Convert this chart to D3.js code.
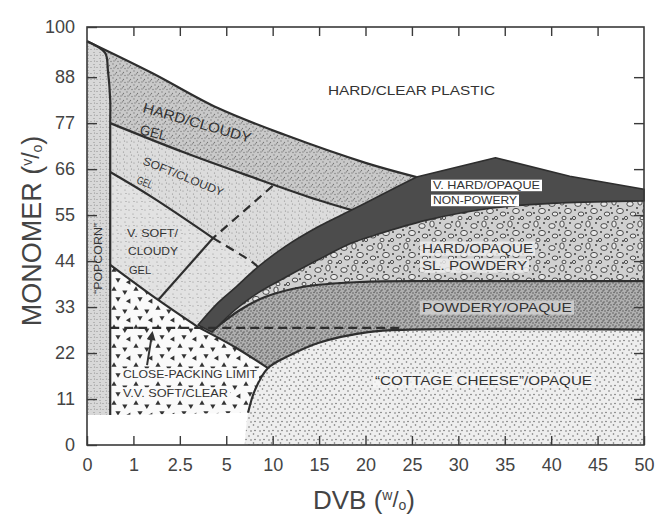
<!DOCTYPE html>
<html>
<head>
<meta charset="utf-8">
<script src="https://cdn.jsdelivr.net/npm/d3@7"></script>
<style>
  body { margin: 0; background: #fff; }
  svg text { font-family: "Liberation Sans", Arial, Helvetica, sans-serif; }
</style>
</head>
<body>
<div id="vis-holder"></div>
<script>
// Chart size and plot box
const width = 658;
const height = 522;
const margin = { top: 27, right: 14, bottom: 77, left: 87 };

// Tick labels (the DVB axis is not linear, ticks are evenly spaced)
const dvbTicks = [0, 1, 2.5, 5, 10, 15, 20, 25, 30, 35, 40, 45, 50];
const monomerTicks = [0, 11, 22, 33, 44, 55, 66, 77, 88, 100];

// Phase boundaries, points are [DVB w/o, monomer v/o]
const plasticEdge = [[0, 96.6], [1.6, 89.0], [4.55, 80.6], [11.3, 74.2], [20, 67.5], [25.5, 64.1]];
const popcornEdge = [[0, 96.6], [0.39, 93.8], [0.45, 89.7], [0.5, 82.5], [0.5, 77.0], [0.5, 7.2]];
const hardGelEdge = [[0.5, 77.0], [2.78, 69.9], [7.77, 64.1], [14.9, 58.6], [18.8, 56.0]];
const softGelEdge = [[0.5, 65.3], [1.6, 59.3], [4.29, 49.5], [7.77, 43.8], [8.42, 42.6]];
const crossEdge = [[10, 62.0], [4.29, 49.5], [1.8, 34.7]];
const clearEdge = [[0.5, 43.1], [1.8, 34.7], [3.48, 28.2]];
const tipEdge = [[3.48, 28.2], [5.95, 23.4], [9.5, 18.4]];
const cottageEdge = [[7.0, 0], [7.35, 7.7], [8.1, 13.2], [9.5, 18.4], [11.9, 21.5], [14.9, 24.4], [20.3, 27.0], [24.8, 27.6], [50, 27.6]];
const bandTop = [[3.48, 28.7], [4.55, 34.0], [5.94, 37.6], [8.42, 42.6], [11.3, 47.4], [14.9, 52.2], [18.5, 56.2], [22.1, 60.3], [25.5, 64.1]];
const bandRidge = [[25.5, 64.1], [34, 68.7], [42, 64.3], [50, 61.2]];
const bandBottom = [[4.23, 27.0], [5.94, 32.3], [8.42, 36.4], [11.3, 40.0], [14.9, 44.3], [18.5, 48.3], [21.0, 50.2], [26.6, 53.8], [33.7, 56.7], [40.95, 57.9], [50, 58.4]];
const powderEdge = [[4.23, 27.3], [6.48, 32.3], [9.17, 35.4], [13.2, 37.8], [19.4, 39.0], [29.1, 39.2], [50, 39.2]];
const closePacking = [[0.5, 28.0], [24, 28.0]];
const arrowLine = [[1.44, 19.1], [1.6, 26.4]];

const svg = d3.select("#vis-holder")
              .append("svg")
              .attr("width", width)
              .attr("height", height);

// Scales
const plotW = width - margin.left - margin.right;
const x = d3.scaleLinear()
            .domain(dvbTicks)
            .range(dvbTicks.map((d, i) => margin.left + i * plotW / (dvbTicks.length - 1)));
const y = d3.scaleLinear()
            .domain([0, 100])
            .range([height - margin.bottom, margin.top]);

const curved = d3.line().x(d => x(d[0])).y(d => y(d[1])).curve(d3.curveCatmullRom.alpha(0.5));
const straight = d3.line().x(d => x(d[0])).y(d => y(d[1]));
const rev = a => a.slice().reverse();
// mark a piece to be drawn with straight segments
const lin = a => Object.assign(a.slice(), { lin: true });

// join boundary pieces into one closed outline
function region(...pieces) {
  return pieces.map((p, i) => {
    const s = p.lin ? straight(p) : curved(p);
    return i ? "L" + s.slice(1) : s;
  }).join("") + "Z";
}

// Textures
const defs = svg.append("defs");

function stipple(id, bg, dot, size, pts, r) {
  const p = defs.append("pattern").attr("id", id)
                .attr("patternUnits", "userSpaceOnUse")
                .attr("width", size).attr("height", size);
  p.append("rect").attr("width", size).attr("height", size).attr("fill", bg);
  pts.forEach(([cx, cy]) => p.append("circle").attr("cx", cx).attr("cy", cy).attr("r", r).attr("fill", dot));
}
stipple("hardGel", "#c9c9c9", "#777", 7, [[1, 1], [4.5, 2.5], [2, 5], [6, 5.5], [3.5, 3.8]], 0.65);
stipple("softGel", "#dcdcdc", "#8a8a8a", 7, [[1, 2], [4.5, 5], [5.5, 1]], 0.6);
stipple("vsoftGel", "#e2e2e2", "#8f8f8f", 8, [[1, 2], [5, 6], [6, 1.5]], 0.6);
stipple("popcorn", "#d8d8d8", "#888", 6, [[1, 1.5], [4, 4.5], [4.5, 1]], 0.6);
stipple("powdery", "#b0b0b0", "#555", 6, [[1, 1], [4, 2], [2, 4.5], [5, 5], [3, 3]], 0.75);
stipple("cottage", "#eeeeee", "#6f6f6f", 9, [[1.5, 2], [6, 4], [3, 7.5], [8, 8]], 0.8);

// bubbly texture for the hard/opaque field
const bub = defs.append("pattern").attr("id", "bubbles")
                .attr("patternUnits", "userSpaceOnUse")
                .attr("width", 26).attr("height", 22);
bub.append("rect").attr("width", 26).attr("height", 22).attr("fill", "#d0d0d0");
[[6, 6, 3.2, 2.4], [16, 4, 2.2, 3.1], [22, 13, 3.4, 2.6], [9, 16, 2.8, 2], [18, 20, 2, 1.8], [2, 20, 1.6, 1.6]]
  .forEach(([cx, cy, rx, ry]) => bub.append("ellipse").attr("cx", cx).attr("cy", cy).attr("rx", rx).attr("ry", ry)
                                    .attr("fill", "#e8e8e8").attr("stroke", "#3a3a3a").attr("stroke-width", 0.9));
[[13, 10], [3, 12], [24, 3], [14, 15], [25, 21], [10, 2], [20, 8]]
  .forEach(([cx, cy]) => bub.append("circle").attr("cx", cx).attr("cy", cy).attr("r", 0.9).attr("fill", "#333"));

// little triangles for v.v. soft/clear
const tri = defs.append("pattern").attr("id", "triangles")
                .attr("patternUnits", "userSpaceOnUse")
                .attr("width", 22).attr("height", 19);
tri.append("rect").attr("width", 22).attr("height", 19).attr("fill", "#fafafa");
[[4, 4, 0], [15, 7, 60], [8, 14, 180], [19, 16, 30]]
  .forEach(([tx, ty, a]) => tri.append("path").attr("d", "M0,-2.8L2.6,1.7L-2.6,1.7Z")
                              .attr("transform", `translate(${tx},${ty}) rotate(${a})`).attr("fill", "#333"));

// Region fills
const fills = svg.append("g");
fills.append("path").attr("d", region(popcornEdge, [[0.5, 7.2], [0, 7.2]], [[0, 7.2], [0, 96.6]])).attr("fill", "url(#popcorn)");
fills.append("path").attr("d", region(plasticEdge, rev(bandTop.slice(6)), rev(hardGelEdge), rev(popcornEdge.slice(0, 5)))).attr("fill", "url(#hardGel)");
fills.append("path").attr("d", region(hardGelEdge, rev(bandTop.slice(3, 7)), rev(softGelEdge), [[0.5, 65.3], [0.5, 77.0]])).attr("fill", "url(#softGel)");
fills.append("path").attr("d", region(softGelEdge, rev(bandTop.slice(0, 4)), rev(clearEdge), [[0.5, 43.1], [0.5, 65.3]])).attr("fill", "url(#vsoftGel)");
fills.append("path").attr("d", region(clearEdge, tipEdge, rev(cottageEdge.slice(1, 4)), [[7.35, 7.7], [0.5, 7.2]], [[0.5, 7.2], [0.5, 43.1]])).attr("fill", "url(#triangles)");
fills.append("path").attr("d", region(cottageEdge, [[50, 27.6], [50, 0]], [[50, 0], [7.0, 0]])).attr("fill", "url(#cottage)");
fills.append("path").attr("d", region(powderEdge, [[50, 39.2], [50, 27.6]], rev(cottageEdge.slice(3)), rev(tipEdge), [[3.48, 28.2], [4.23, 27.3]])).attr("fill", "url(#powdery)");
fills.append("path").attr("d", region(bandBottom, [[50, 58.4], [50, 39.2]], rev(powderEdge), [[4.23, 27.3], [4.23, 27.0]])).attr("fill", "url(#bubbles)");

// Boundary lines
const lines = svg.append("g")
                 .attr("fill", "none")
                 .attr("stroke", "#2e2e2e")
                 .attr("stroke-width", 2.2)
                 .attr("stroke-linejoin", "round");
[plasticEdge, popcornEdge, hardGelEdge, softGelEdge.slice(0, 3), clearEdge, tipEdge, cottageEdge.slice(1), powderEdge]
  .forEach(p => lines.append("path").attr("d", curved(p)));
lines.append("path").attr("d", straight(crossEdge.slice(1)));
lines.append("path").attr("d", curved(softGelEdge.slice(2))).attr("stroke-dasharray", "9,6");
lines.append("path").attr("d", straight(crossEdge.slice(0, 2))).attr("stroke-dasharray", "9,6");

// V. hard / opaque band
svg.append("path")
   .attr("d", region(bandTop, lin(bandRidge), [[50, 61.2], [50, 58.4]], rev(bandBottom), [[4.23, 27.0], [3.48, 28.7]]))
   .attr("fill", "#4c4c4c")
   .attr("stroke", "#2e2e2e")
   .attr("stroke-width", 1.6)
   .attr("stroke-linejoin", "round");

// Close-packing limit
svg.append("path")
   .attr("d", straight(closePacking))
   .attr("fill", "none")
   .attr("stroke", "#2e2e2e")
   .attr("stroke-width", 2.2)
   .attr("stroke-dasharray", "9,5");

defs.append("marker").attr("id", "head")
    .attr("viewBox", "0 0 10 10").attr("refX", 6).attr("refY", 5)
    .attr("markerWidth", 5).attr("markerHeight", 4.5).attr("orient", "auto")
    .append("path").attr("d", "M0,0L10,5L0,10Z").attr("fill", "#333");
svg.append("path")
   .attr("d", straight(arrowLine))
   .attr("stroke", "#333")
   .attr("stroke-width", 2)
   .attr("marker-end", "url(#head)");

// Region labels
const labels = svg.append("g").attr("fill", "#333");
function label(txt, px, py, size, len, angle, bg) {
  if (bg) {
    labels.append("rect")
          .attr("x", px - 2).attr("y", py - size * 0.85)
          .attr("width", len + 4).attr("height", size * 1.05)
          .attr("fill", bg);
  }
  labels.append("text")
        .attr("transform", `translate(${px},${py}) rotate(${angle || 0})`)
        .attr("font-size", size)
        .attr("textLength", len)
        .attr("lengthAdjust", "spacingAndGlyphs")
        .text(txt);
}
label("HARD/CLEAR PLASTIC", 328, 95, 13.5, 167);
label("HARD/CLOUDY", 142, 112, 14, 112, 16);
label("GEL", 139, 134, 14, 27, 14);
label("SOFT/CLOUDY", 142, 164, 11.5, 86, 22);
label("GEL", 136, 183, 11, 16, 22);
label("V. SOFT/", 127, 237, 11.5, 51);
label("CLOUDY", 128, 255, 11.5, 50);
label("GEL", 129, 274, 11.5, 22);
label("\u201CPOPCORN\u201D", 102, 294, 10, 71, -90);
label("V. HARD/OPAQUE", 433, 189, 11, 107, 0, "#fff");
label("NON-POWERY", 433, 204, 11, 84, 0, "#fff");
label("HARD/OPAQUE", 422, 253, 13.5, 111, 0, "rgba(236,236,236,0.85)");
label("SL. POWDERY", 422, 270, 13.5, 105, 0, "rgba(236,236,236,0.85)");
label("POWDERY/OPAQUE", 422, 312, 13.5, 150, 0, "rgba(210,210,210,0.85)");
label("\u201CCOTTAGE CHEESE\u201D/OPAQUE", 375, 385, 13.5, 217, 0, "rgba(245,245,245,0.8)");
label("CLOSE-PACKING LIMIT", 123, 378, 11.5, 134, 0, "#fafafa");
label("V.V. SOFT/CLEAR", 123, 397, 11.5, 105, 0, "#fafafa");

// Frame and axes
const yBottom = height - margin.bottom;
const xRight = width - margin.right;

svg.append("rect")
   .attr("x", margin.left).attr("y", margin.top)
   .attr("width", plotW).attr("height", yBottom - margin.top)
   .attr("fill", "none").attr("stroke", "#3a3a3a").attr("stroke-width", 1.6);

function styleAxis(g) {
  g.select(".domain").remove();
  g.selectAll(".tick line").attr("stroke", "#3a3a3a").attr("stroke-width", 1.4);
  g.selectAll(".tick text").attr("fill", "#444").attr("font-size", 18)
   .attr("font-family", "'Liberation Sans', Arial, sans-serif");
}

svg.append("g")
   .attr("transform", `translate(0,${yBottom})`)
   .call(d3.axisBottom(x).tickValues(dvbTicks).tickSize(-9).tickPadding(13).tickFormat(d => d))
   .call(styleAxis);
svg.append("g")
   .attr("transform", `translate(0,${margin.top})`)
   .call(d3.axisTop(x).tickValues(dvbTicks.slice(1, -1)).tickSize(-9).tickFormat(""))
   .call(styleAxis);
svg.append("g")
   .attr("transform", `translate(${margin.left},0)`)
   .call(d3.axisLeft(y).tickValues(monomerTicks).tickSize(-10).tickPadding(12).tickFormat(d => d))
   .call(styleAxis);
svg.append("g")
   .attr("transform", `translate(${xRight},0)`)
   .call(d3.axisRight(y).tickValues(monomerTicks.slice(1, -1)).tickSize(-10).tickFormat(""))
   .call(styleAxis);

// Axis titles
const yTitle = svg.append("text")
                  .attr("transform", `translate(41,231) rotate(-90)`)
                  .attr("text-anchor", "middle")
                  .attr("fill", "#444")
                  .attr("font-size", 27);
yTitle.append("tspan").text("MONOMER (");
yTitle.append("tspan").text("v").attr("font-size", 14).attr("dy", -9);
yTitle.append("tspan").text("/").attr("font-size", 23).attr("dy", 7);
yTitle.append("tspan").text("o").attr("font-size", 14).attr("dy", 3);
yTitle.append("tspan").text(")").attr("dy", -1);

const xTitle = svg.append("text")
                  .attr("x", 364).attr("y", 509)
                  .attr("text-anchor", "middle")
                  .attr("fill", "#444")
                  .attr("font-size", 26);
xTitle.append("tspan").text("DVB (");
xTitle.append("tspan").text("w").attr("font-size", 14).attr("dy", -9);
xTitle.append("tspan").text("/").attr("font-size", 22).attr("dy", 7);
xTitle.append("tspan").text("o").attr("font-size", 14).attr("dy", 3);
xTitle.append("tspan").text(")").attr("dy", -1);
</script>
</body>
</html>
